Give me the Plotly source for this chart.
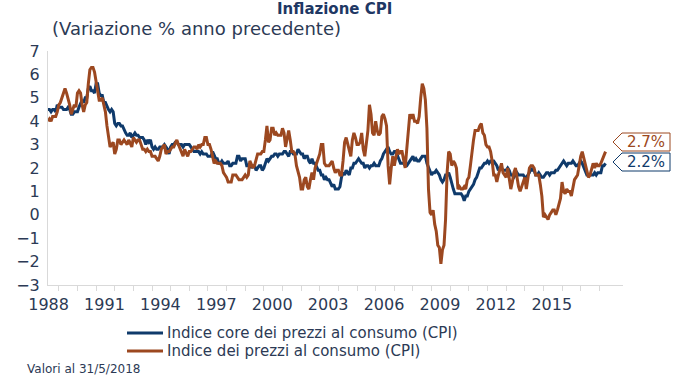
import plotly.graph_objects as go

# ---------------- data (monthly, year-over-year % change) ----------------
start_year, start_month = 1988, 6   # first observation: June 1988

cpi = [
    4.0, 4.1, 4.0, 4.2, 4.2, 4.2, 4.4,                          # 1988 Jun-Dec
    4.7, 4.8, 5.0, 5.1, 5.4, 5.2, 5.0, 4.7, 4.3, 4.5, 4.7, 4.6,  # 1989
    5.2, 5.3, 5.2, 4.7, 4.4, 4.7, 4.8, 5.6, 6.2, 6.3, 6.3, 6.1,  # 1990
    5.7, 5.3, 4.9, 4.9, 5.0, 4.7, 4.4, 3.8, 3.4, 2.9, 3.0, 3.1,  # 1991
    2.6, 2.8, 3.2, 3.2, 3.0, 3.1, 3.2, 3.1, 3.0, 3.2, 3.0, 2.9,  # 1992
    3.3, 3.2, 3.1, 3.2, 3.2, 3.0, 2.8, 2.8, 2.7, 2.8, 2.7, 2.7,  # 1993
    2.5, 2.5, 2.5, 2.4, 2.3, 2.5, 2.8, 2.9, 3.0, 2.6, 2.7, 2.7,  # 1994
    2.8, 2.9, 2.9, 3.1, 3.2, 3.0, 2.8, 2.6, 2.5, 2.8, 2.6, 2.5,  # 1995
    2.7, 2.7, 2.8, 2.9, 2.9, 2.8, 3.0, 2.9, 3.0, 3.0, 3.3, 3.3,  # 1996
    3.0, 3.0, 2.8, 2.5, 2.2, 2.3, 2.2, 2.2, 2.2, 2.1, 1.8, 1.7,  # 1997
    1.6, 1.4, 1.4, 1.4, 1.7, 1.7, 1.7, 1.6, 1.5, 1.5, 1.5, 1.6,  # 1998
    1.7, 1.6, 1.7, 2.3, 2.1, 2.0, 2.1, 2.3, 2.6, 2.6, 2.6, 2.7,  # 1999
    2.7, 3.2, 3.8, 3.1, 3.2, 3.7, 3.7, 3.4, 3.5, 3.4, 3.4, 3.4,  # 2000
    3.7, 3.5, 2.9, 3.3, 3.6, 3.2, 2.7, 2.7, 2.6, 2.1, 1.9, 1.6,  # 2001
    1.1, 1.1, 1.5, 1.6, 1.2, 1.1, 1.5, 1.8, 1.5, 2.0, 2.2, 2.4,  # 2002
    2.6, 3.0, 3.0, 2.2, 2.1, 2.1, 2.1, 2.2, 2.3, 2.0, 1.8, 1.9,  # 2003
    1.9, 1.7, 1.7, 2.3, 3.1, 3.3, 3.0, 2.7, 2.5, 3.2, 3.5, 3.3,  # 2004
    3.0, 3.0, 3.1, 3.5, 2.8, 2.5, 3.2, 3.6, 4.7, 4.3, 3.5, 3.4,  # 2005
    4.0, 3.6, 3.4, 3.5, 4.2, 4.3, 4.1, 3.8, 2.1, 1.3, 2.0, 2.5,  # 2006
    2.1, 2.4, 2.8, 2.6, 2.7, 2.7, 2.4, 2.0, 2.8, 3.5, 4.3, 4.1,  # 2007
    4.3, 4.0, 4.0, 3.9, 4.2, 5.0, 5.6, 5.4, 4.9, 3.7, 1.1, 0.1,  # 2008
    0.0, 0.2, -0.4, -0.7, -1.3, -1.4, -2.1, -1.5, -1.3, -0.2, 1.8, 2.7,  # 2009
    2.6, 2.1, 2.3, 2.2, 2.0, 1.1, 1.2, 1.1, 1.1, 1.2, 1.1, 1.5,  # 2010
    1.6, 2.1, 2.7, 3.2, 3.6, 3.6, 3.6, 3.8, 3.9, 3.5, 3.4, 3.0,  # 2011
    2.9, 2.9, 2.7, 2.3, 1.7, 1.7, 1.4, 1.7, 2.0, 2.2, 1.8, 1.7,  # 2012
    1.6, 2.0, 1.5, 1.1, 1.4, 1.8, 2.0, 1.5, 1.2, 1.0, 1.2, 1.5,  # 2013
    1.6, 1.1, 1.5, 2.0, 2.1, 2.1, 2.0, 1.7, 1.7, 1.7, 1.3, 0.8,  # 2014
    -0.1, 0.0, -0.1, -0.2, 0.0, 0.1, 0.2, 0.2, 0.0, 0.2, 0.5, 0.7,  # 2015
    1.4, 1.0, 0.9, 1.1, 1.0, 1.0, 0.8, 1.1, 1.5, 1.6, 1.7, 2.1,  # 2016
    2.5, 2.7, 2.4, 2.2, 1.9, 1.6, 1.7, 1.9, 2.2, 2.0, 2.2, 2.1,  # 2017
    2.1, 2.2, 2.4, 2.5, 2.7,                                    # 2018 Jan-May
]

core = [
    4.5, 4.5, 4.4, 4.5, 4.5, 4.4, 4.7,                          # 1988 Jun-Dec
    4.6, 4.6, 4.6, 4.5, 4.5, 4.5, 4.6, 4.5, 4.3, 4.3, 4.4, 4.4,  # 1989
    4.4, 4.6, 4.8, 4.9, 4.8, 5.0, 5.0, 5.4, 5.5, 5.3, 5.3, 5.2,  # 1990
    5.6, 5.6, 5.2, 5.1, 5.1, 4.8, 4.8, 4.6, 4.5, 4.4, 4.5, 4.4,  # 1991
    3.9, 3.8, 3.9, 3.9, 3.8, 3.8, 3.6, 3.5, 3.4, 3.4, 3.5, 3.3,  # 1992
    3.4, 3.5, 3.4, 3.4, 3.3, 3.3, 3.3, 3.2, 3.0, 3.2, 3.1, 3.2,  # 1993
    2.9, 2.8, 2.9, 2.8, 2.8, 2.9, 2.9, 2.9, 3.0, 2.9, 2.8, 2.6,  # 1994
    2.9, 3.0, 3.0, 3.1, 3.1, 3.0, 3.0, 3.0, 2.9, 3.0, 3.0, 3.0,  # 1995
    3.0, 2.9, 2.8, 2.7, 2.7, 2.7, 2.7, 2.6, 2.7, 2.6, 2.6, 2.6,  # 1996
    2.5, 2.5, 2.5, 2.7, 2.5, 2.4, 2.4, 2.2, 2.2, 2.3, 2.2, 2.2,  # 1997
    2.2, 2.3, 2.1, 2.1, 2.2, 2.2, 2.2, 2.5, 2.5, 2.3, 2.4, 2.4,  # 1998
    2.4, 2.1, 2.1, 2.2, 2.0, 2.1, 2.1, 1.9, 2.0, 2.1, 2.1, 1.9,  # 1999
    2.0, 2.2, 2.4, 2.3, 2.4, 2.5, 2.5, 2.6, 2.6, 2.5, 2.6, 2.6,  # 2000
    2.6, 2.7, 2.7, 2.6, 2.5, 2.7, 2.7, 2.6, 2.6, 2.6, 2.8, 2.7,  # 2001
    2.6, 2.6, 2.4, 2.5, 2.5, 2.3, 2.2, 2.4, 2.2, 2.2, 2.0, 1.9,  # 2002
    1.9, 1.7, 1.7, 1.5, 1.6, 1.5, 1.5, 1.3, 1.2, 1.3, 1.1, 1.1,  # 2003
    1.1, 1.2, 1.6, 1.8, 1.7, 1.9, 1.8, 1.7, 2.0, 2.0, 2.2, 2.2,  # 2004
    2.3, 2.4, 2.3, 2.2, 2.2, 2.0, 2.1, 2.1, 2.0, 2.1, 2.1, 2.2,  # 2005
    2.1, 2.1, 2.1, 2.3, 2.4, 2.6, 2.7, 2.8, 2.9, 2.7, 2.6, 2.6,  # 2006
    2.7, 2.7, 2.5, 2.3, 2.2, 2.2, 2.2, 2.1, 2.1, 2.2, 2.3, 2.4,  # 2007
    2.5, 2.3, 2.4, 2.3, 2.3, 2.4, 2.5, 2.5, 2.5, 2.2, 2.0, 1.8,  # 2008
    1.7, 1.8, 1.8, 1.9, 1.8, 1.7, 1.5, 1.4, 1.5, 1.7, 1.7, 1.8,  # 2009
    1.6, 1.3, 1.1, 0.9, 0.9, 0.9, 0.9, 0.9, 0.8, 0.6, 0.8, 0.8,  # 2010
    1.0, 1.1, 1.2, 1.3, 1.5, 1.6, 1.8, 2.0, 2.0, 2.1, 2.2, 2.2,  # 2011
    2.3, 2.2, 2.3, 2.3, 2.3, 2.2, 2.1, 1.9, 2.0, 2.0, 1.9, 1.9,  # 2012
    1.9, 2.0, 1.9, 1.7, 1.7, 1.6, 1.7, 1.8, 1.7, 1.7, 1.7, 1.7,  # 2013
    1.6, 1.6, 1.7, 1.8, 2.0, 1.9, 1.9, 1.7, 1.7, 1.8, 1.7, 1.6,  # 2014
    1.6, 1.7, 1.8, 1.8, 1.7, 1.8, 1.8, 1.8, 1.9, 1.9, 2.0, 2.1,  # 2015
    2.2, 2.3, 2.2, 2.1, 2.2, 2.2, 2.2, 2.3, 2.2, 2.1, 2.1, 2.2,  # 2016
    2.3, 2.2, 2.0, 1.9, 1.7, 1.7, 1.7, 1.7, 1.7, 1.8, 1.7, 1.8,  # 2017
    1.8, 1.8, 2.1, 2.1, 2.2,                                    # 2018 Jan-May
]

tick_years = list(range(1988, 2016, 3))
tick_labels = [str(y) for y in tick_years]
y_ticks = list(range(-3, 8))
last_labels = ["2.7%", "2.2%"]
series_names = ["Indice core dei prezzi al consumo (CPI)",
                "Indice dei prezzi al consumo (CPI)"]

# decimal-year time coordinate for each month
n = len(cpi)
t = [start_year + (start_month - 1 + i) / 12.0 for i in range(n)]

NAVY = "#0f3a6b"
BROWN = "#9c4820"
TXT = "#2c3a55"
FONT = "DejaVu Sans"
COLORS = [NAVY, BROWN]

fig = go.Figure()
fig.add_trace(go.Scatter(x=t, y=core, mode="lines", name=series_names[0],
                         line=dict(color=NAVY, width=3), showlegend=False))
fig.add_trace(go.Scatter(x=t, y=cpi, mode="lines", name=series_names[1],
                         line=dict(color=BROWN, width=3), showlegend=False))

W, H = 698, 380
L, R, T, B = 48, 75, 51, 95
PW, PH = W - L - R, H - T - B


def px(x):
    return (x - L) / PW


def py(y):
    return (H - B - y) / PH


fig.update_layout(
    width=W, height=H,
    margin=dict(l=L, r=R, t=T, b=B, autoexpand=False),
    paper_bgcolor="white", plot_bgcolor="white",
    font=dict(family=FONT, color=TXT, size=15),
    showlegend=False,
    xaxis=dict(
        range=[1988.42, 2019.27],
        tickmode="array",
        tickvals=[y + 0.45 for y in tick_years],
        ticktext=tick_labels,
        ticks="", showgrid=False, zeroline=False,
        showline=True, linecolor="#d9d9d9", linewidth=1,
        tickfont=dict(size=16, color=TXT),
        ticklabelstandoff=5,
        minor=dict(tickmode="array", tickvals=list(range(1989, 2019)),
                   ticks="outside", ticklen=5, tickcolor="#d9d9d9", showgrid=False),
    ),
    yaxis=dict(
        range=[-3, 7], tickmode="array", tickvals=y_ticks,
        ticks="", showgrid=False, zeroline=False,
        showline=True, linecolor="#d9d9d9", linewidth=1,
        tickfont=dict(size=16, color=TXT),
        ticklabelstandoff=4,
    ),
)

annotations = [
    dict(text="<b>Inflazione CPI</b>", xref="paper", yref="paper",
         x=px(334), y=py(-2), xanchor="center", yanchor="top",
         showarrow=False, font=dict(size=15, color="#1f3864")),
    dict(text="(Variazione % anno precedente)", xref="paper", yref="paper",
         x=px(50), y=py(29), xanchor="left", yanchor="middle",
         showarrow=False, font=dict(size=18, color=TXT)),
    dict(text="Valori al 31/5/2018", xref="paper", yref="paper",
         x=px(25), y=py(369), xanchor="left", yanchor="middle",
         showarrow=False, font=dict(size=12, color=TXT)),
]

shapes = []
# legend (drawn by hand to match the tight row spacing of the original)
for name, col, yc in zip(series_names, COLORS, [333, 351]):
    shapes.append(dict(type="line", xref="paper", yref="paper",
                       x0=px(127), x1=px(163), y0=py(yc), y1=py(yc),
                       line=dict(color=col, width=3)))
    annotations.append(dict(text=name, xref="paper", yref="paper",
                            x=px(166), y=py(yc), xanchor="left", yanchor="middle",
                            borderpad=0, showarrow=False,
                            font=dict(size=15, color=TXT)))

# end-value tags
for label, col, yc in [(last_labels[0], BROWN, 142), (last_labels[1], NAVY, 162)]:
    x0, x1, xt = 622, 670, 613
    y0, y1 = yc - 9, yc + 9
    path = (f"M {px(x0)} {py(y0)} L {px(x1)} {py(y0)} L {px(x1)} {py(y1)} "
            f"L {px(x0)} {py(y1)} L {px(xt)} {py(yc)} Z")
    shapes.append(dict(type="path", path=path, xref="paper", yref="paper",
                       line=dict(color=col, width=1), fillcolor="white"))
    annotations.append(dict(text=label, xref="paper", yref="paper",
                            x=px(646), y=py(yc), xanchor="center", yanchor="middle",
                            borderpad=0, showarrow=False,
                            font=dict(size=15, color=col)))

fig.update_layout(annotations=annotations, shapes=shapes)
fig.write_html("out.html",
               config={"displayModeBar": False},
               post_script="document.body.style.margin='0';"
                           "document.body.style.overflow='hidden';")
